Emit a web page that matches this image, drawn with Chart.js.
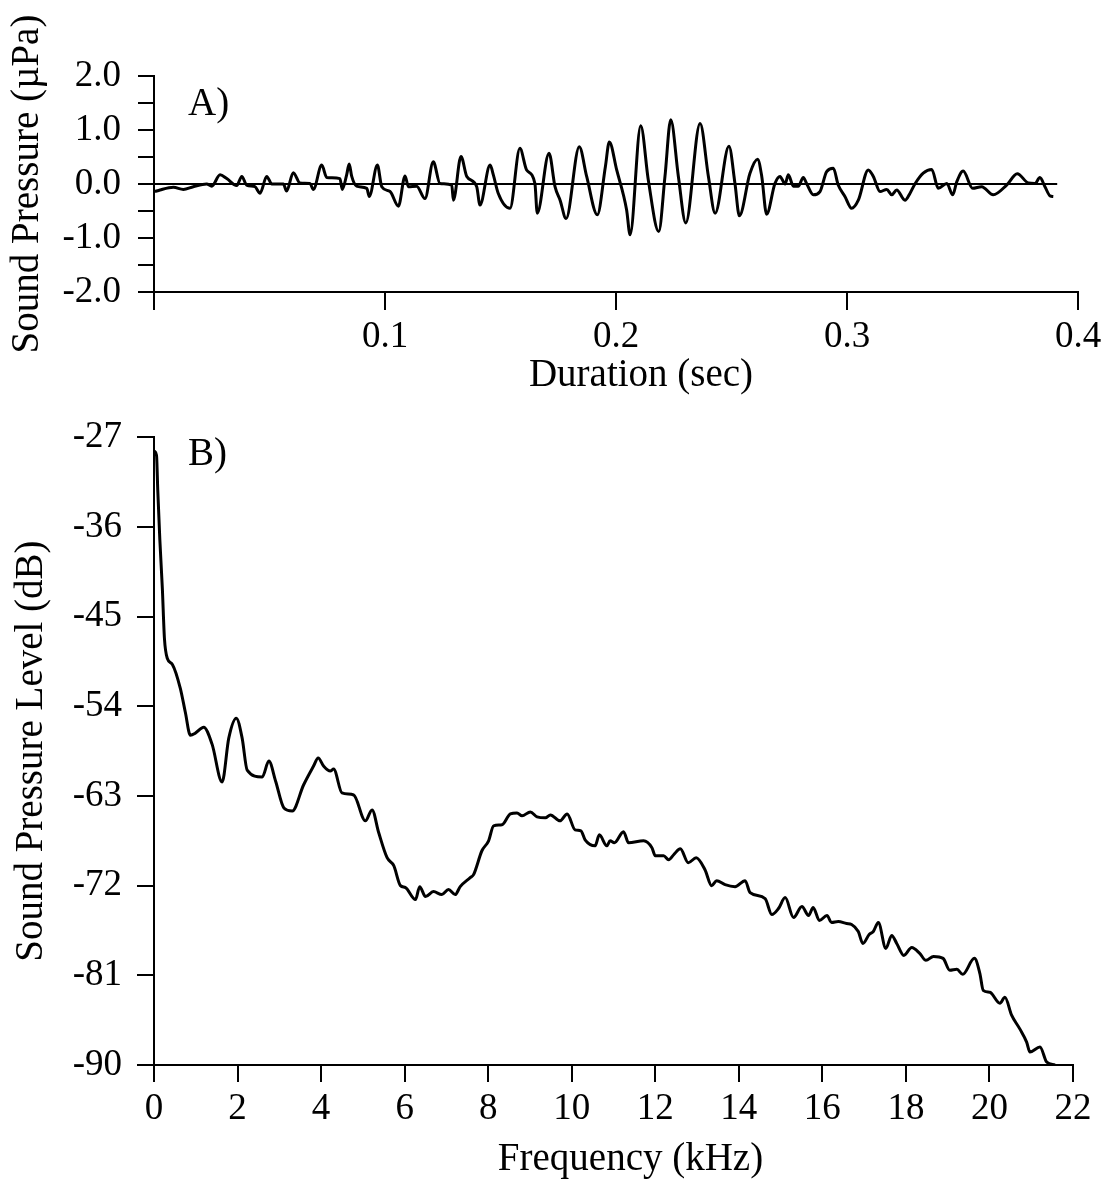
<!DOCTYPE html>
<html>
<head>
<meta charset="utf-8">
<script src="https://cdn.jsdelivr.net/npm/chart.js@4.4.1/dist/chart.umd.min.js"></script>
<style>
  html, body { margin: 0; padding: 0; background: #fff; }
  #wrap { position: relative; width: 1112px; height: 1183px; }
  #c1 { position: absolute; left: 0; top: 0; }
  #c2 { position: absolute; left: 0; top: 400px; }
</style>
</head>
<body>
<div id="wrap">
  <canvas id="c1" width="1112" height="400"></canvas>
  <canvas id="c2" width="1112" height="783"></canvas>
</div>
<script>
// ---------- Panel A: waveform ----------
const durationSec = [
  0.0004, 0.0026, 0.0084, 0.0127, 0.0170, 0.0228, 0.0250, 0.0286, 0.0315, 0.0358,
  0.0380, 0.0401, 0.0437, 0.0459, 0.0488, 0.0510, 0.0560, 0.0574, 0.0603, 0.0632,
  0.0675, 0.0690, 0.0726, 0.0748, 0.0805, 0.0815, 0.0834, 0.0845, 0.0856, 0.0877,
  0.0921, 0.0932, 0.0967, 0.0986, 0.1022, 0.1058, 0.1087, 0.1101, 0.1137, 0.1173,
  0.1209, 0.1238, 0.1289, 0.1296, 0.1329, 0.1354, 0.1397, 0.1411, 0.1455, 0.1469,
  0.1490, 0.1541, 0.1584, 0.1613, 0.1649, 0.1659, 0.1710, 0.1736, 0.1758, 0.1784,
  0.1841, 0.1873, 0.1919, 0.1954, 0.1971, 0.2003, 0.2046, 0.2061, 0.2107, 0.2140,
  0.2185, 0.2212, 0.2237, 0.2270, 0.2302, 0.2364, 0.2400, 0.2429, 0.2489, 0.2515,
  0.2534, 0.2580, 0.2613, 0.2631, 0.2652, 0.2688, 0.2710, 0.2732, 0.2746, 0.2768,
  0.2789, 0.2811, 0.2826, 0.2854, 0.2883, 0.2912, 0.2941, 0.2962, 0.2991, 0.3020,
  0.3049, 0.3092, 0.3114, 0.3143, 0.3172, 0.3194, 0.3215, 0.3251, 0.3273, 0.3294,
  0.3330, 0.3367, 0.3395, 0.3432, 0.3458, 0.3475, 0.3503, 0.3544, 0.3583, 0.3633,
  0.3691, 0.3737, 0.3785, 0.3814, 0.3835, 0.3857, 0.3879, 0.3893
];
const soundPressure = [
  -0.14, -0.11, -0.06, -0.10, -0.05, 0.00, -0.04, 0.17, 0.10, -0.03,
  0.14, -0.02, -0.05, -0.17, 0.14, 0.00, 0.00, -0.13, 0.21, 0.02,
  0.01, -0.10, 0.35, 0.12, 0.10, -0.10, 0.17, 0.37, 0.14, -0.04,
  -0.08, -0.23, 0.35, -0.05, -0.14, -0.41, 0.15, -0.05, -0.04, -0.27,
  0.41, 0.01, -0.02, -0.30, 0.51, 0.14, -0.05, -0.39, 0.35, 0.17,
  -0.17, -0.45, 0.66, 0.26, 0.01, -0.54, 0.57, -0.05, -0.30, -0.64,
  0.69, 0.14, -0.57, 0.32, 0.78, 0.26, -0.48, -0.94, 1.08, 0.07,
  -0.88, 0.14, 1.19, 0.14, -0.72, 1.12, 0.14, -0.54, 0.70, 0.01,
  -0.59, 0.20, 0.46, 0.14, -0.56, 0.01, 0.14, 0.00, 0.17, -0.04,
  -0.04, 0.12, 0.00, -0.20, -0.14, 0.23, 0.29, -0.02, -0.23, -0.45,
  -0.30, 0.26, 0.14, -0.14, -0.10, -0.20, -0.11, -0.30, -0.17, 0.00,
  0.20, 0.27, -0.08, 0.01, -0.20, 0.04, 0.24, -0.08, -0.05, -0.20,
  -0.02, 0.19, 0.02, 0.01, 0.12, -0.05, -0.22, -0.23
];
const zeroLineT = [0, 0.391];
const zeroLineV = [0, 0];
const durationTicks = [0, 0.1, 0.2, 0.3, 0.4];
const pressureTicks = [-2.0, -1.0, 0.0, 1.0, 2.0];

// ---------- Panel B: spectrum ----------
const freqKHz = [
  0.01, 0.06, 0.09, 0.14, 0.20, 0.25, 0.32, 0.44, 0.63, 0.75,
  0.87, 0.99, 1.19, 1.39, 1.63, 1.79, 1.97, 2.11, 2.23, 2.59,
  2.75, 2.91, 3.11, 3.31, 3.58, 3.82, 3.93, 4.06, 4.22, 4.30,
  4.50, 4.78, 5.06, 5.22, 5.38, 5.58, 5.74, 5.90, 6.02, 6.26,
  6.36, 6.50, 6.69, 6.89, 7.05, 7.21, 7.33, 7.57, 7.65, 7.85,
  8.01, 8.13, 8.33, 8.53, 8.69, 8.81, 9.01, 9.17, 9.37, 9.49,
  9.72, 9.89, 10.08, 10.22, 10.32, 10.56, 10.66, 10.84, 10.92, 11.02,
  11.24, 11.36, 11.72, 11.92, 12.00, 12.20, 12.32, 12.44, 12.60, 12.79,
  12.98, 13.19, 13.35, 13.47, 13.67, 13.91, 14.15, 14.27, 14.63, 14.79,
  14.95, 15.11, 15.31, 15.51, 15.67, 15.78, 15.93, 16.11, 16.22, 16.38,
  16.58, 16.70, 16.86, 16.97, 17.12, 17.22, 17.34, 17.52, 17.66, 17.78,
  17.95, 18.14, 18.33, 18.48, 18.66, 18.89, 19.05, 19.22, 19.36, 19.64,
  19.77, 19.85, 20.01, 20.25, 20.37, 20.53, 20.73, 20.89, 20.97, 21.21,
  21.37, 21.57
];
const splDB = [
  -28.4, -28.8, -32.3, -37.3, -42.2, -47.2, -49.2, -49.8, -52.2, -54.6,
  -56.9, -56.7, -56.1, -57.8, -61.6, -57.2, -55.2, -57.2, -60.4, -61.1,
  -59.5, -61.5, -64.2, -64.5, -61.9, -60.0, -59.2, -60.0, -60.5, -60.3,
  -62.7, -62.9, -65.5, -64.4, -66.7, -69.2, -70.0, -72.0, -72.2, -73.4,
  -72.1, -73.1, -72.6, -72.9, -72.4, -72.9, -72.1, -71.2, -70.9, -68.5,
  -67.5, -66.0, -65.9, -64.8, -64.7, -65.0, -64.6, -65.1, -65.2, -64.9,
  -65.5, -64.8, -66.4, -66.5, -67.4, -68.0, -66.9, -68.0, -67.5, -67.7,
  -66.6, -67.7, -67.5, -68.2, -69.0, -69.0, -69.4, -68.9, -68.3, -69.7,
  -69.2, -70.4, -72.0, -71.5, -71.9, -72.1, -71.5, -72.7, -73.3, -74.9,
  -74.3, -73.2, -75.2, -74.1, -75.0, -74.2, -75.5, -75.0, -75.7, -75.6,
  -75.8, -75.9, -76.6, -77.8, -76.9, -76.6, -75.7, -78.3, -77.0, -77.8,
  -79.0, -78.2, -78.8, -79.5, -79.1, -79.3, -80.5, -80.4, -80.9, -79.3,
  -80.8, -82.5, -82.7, -83.8, -83.2, -85.0, -86.4, -87.7, -88.7, -88.2,
  -89.7, -90.0
];
const freqTicks = [0, 2, 4, 6, 8, 10, 12, 14, 16, 18, 20, 22];
const splTicks = [-90, -81, -72, -63, -54, -45, -36, -27];

const FONT = "'Liberation Serif', 'Times New Roman', serif";
const TICK_FONT = { family: FONT, size: 37 };
const TITLE_FONT = { family: FONT, size: 39 };

Chart.defaults.font.family = FONT;
Chart.defaults.color = '#000';

function pts(xs, ys) { return xs.map((x, i) => ({ x: x, y: ys[i] })); }

function panelLabel(text, dy) {
  return {
    id: 'panelLabel',
    afterDraw(chart) {
      const ctx = chart.ctx, a = chart.chartArea;
      ctx.save();
      ctx.font = "39px " + FONT;
      ctx.fillStyle = '#000';
      ctx.textBaseline = 'alphabetic';
      ctx.textAlign = 'left';
      ctx.fillText(text, a.left + 34, a.top + dy);
      ctx.restore();
    }
  };
}

function axisCommon(tickLen) {
  return {
    type: 'linear',
    border: { display: true, color: '#000', width: 2 },
    grid: { display: true, drawOnChartArea: false, drawTicks: true, tickLength: tickLen, color: '#000', lineWidth: 2 },
  };
}

// the reference sets its x-axis titles a little right of the plot centre
function offsetTitle(scale, dx) {
  const orig = scale.drawTitle.bind(scale);
  scale.drawTitle = function () {
    const ctx = this.ctx;
    ctx.save();
    ctx.translate(dx, 0);
    orig();
    ctx.restore();
  };
}

// Panel A
const chartA = new Chart(document.getElementById('c1'), {
  type: 'line',
  data: {
    datasets: [
      { data: pts(zeroLineT, zeroLineV), borderColor: '#000', borderWidth: 2, pointRadius: 0, tension: 0 },
      { data: pts(durationSec, soundPressure), borderColor: '#000', borderWidth: 3, pointRadius: 0,
        cubicInterpolationMode: 'monotone', borderJoinStyle: 'round' }
    ]
  },
  options: {
    responsive: false, animation: false, devicePixelRatio: 1,
    layout: { padding: { left: 0, top: 76, right: 34, bottom: 0 } },
    plugins: { legend: { display: false }, tooltip: { enabled: false } },
    scales: {
      x: Object.assign(axisCommon(18), {
        min: durationTicks[0], max: durationTicks[durationTicks.length - 1],
        afterBuildTicks(s) { s.ticks = durationTicks.map(v => ({ value: v })); },
        afterFit(s) { s.height = 108; },
        ticks: { font: TICK_FONT, padding: 5, maxRotation: 0, autoSkip: false,
          callback: v => (v === 0 ? '' : v.toFixed(1)) },
        title: { display: true, text: 'Duration (sec)', font: TITLE_FONT, padding: { top: 0, bottom: 1 } }
      }),
      y: Object.assign(axisCommon(16), {
        min: -2, max: 2,
        ticks: { font: TICK_FONT, padding: 17, stepSize: 0.5, autoSkip: false,
          callback: v => (pressureTicks.includes(v) ? v.toFixed(1) : '') },
        afterFit(s) { s.width = 154; },
        title: { display: true, text: 'Sound Pressure (µPa)', font: TITLE_FONT, padding: { top: 4, bottom: 0 } }
      })
    }
  },
  plugins: [panelLabel('A)', 39)]
});
offsetTitle(chartA.scales.x, 25);
chartA.draw();

// Panel B
const chartB = new Chart(document.getElementById('c2'), {
  type: 'line',
  data: {
    datasets: [
      { data: pts(freqKHz, splDB), borderColor: '#000', borderWidth: 3, pointRadius: 0,
        cubicInterpolationMode: 'monotone', borderJoinStyle: 'round' }
    ]
  },
  options: {
    responsive: false, animation: false, devicePixelRatio: 1,
    layout: { padding: { left: 0, top: 34, right: 39, bottom: 0 } },
    plugins: { legend: { display: false }, tooltip: { enabled: false } },
    scales: {
      x: Object.assign(axisCommon(17), {
        min: freqTicks[0], max: freqTicks[freqTicks.length - 1],
        afterBuildTicks(s) { s.ticks = freqTicks.map(v => ({ value: v })); },
        afterFit(s) { s.height = 118; },
        ticks: { font: TICK_FONT, padding: 5, maxRotation: 0, autoSkip: false },
        title: { display: true, text: 'Frequency (kHz)', font: TITLE_FONT, padding: { top: 0, bottom: 0 } }
      }),
      y: Object.assign(axisCommon(17), {
        min: splTicks[0], max: splTicks[splTicks.length - 1],
        afterBuildTicks(s) { s.ticks = splTicks.map(v => ({ value: v })); },
        ticks: { font: TICK_FONT, padding: 15, autoSkip: false },
        afterFit(s) { s.width = 154; },
        title: { display: true, text: 'Sound Pressure Level (dB)', font: TITLE_FONT, padding: { top: 8, bottom: 0 } }
      })
    }
  },
  plugins: [panelLabel('B)', 28)]
});
offsetTitle(chartB.scales.x, 17);
chartB.draw();
</script>
</body>
</html>
